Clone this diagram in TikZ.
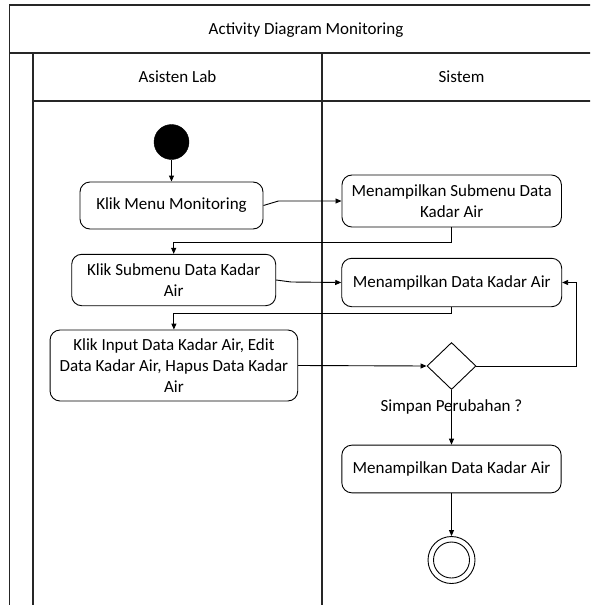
\documentclass[tikz,border=0pt]{standalone}
\usepackage{fontspec}
\setmainfont{Carlito}
\usetikzlibrary{shapes.geometric,arrows.meta}
\tikzset{
  x=1pt,y=-1pt,
  frame/.style={line width=1.2pt,draw=black!85},
  act/.style={draw,line width=0.9pt,rounded corners=10pt,align=center,inner sep=0pt,
    font=\fontsize{17}{21}\selectfont},
  dec/.style={draw,diamond,line width=0.9pt,inner sep=0pt,minimum width=49pt,minimum height=47pt},
  lbl/.style={align=center,inner sep=0pt,font=\fontsize{17}{21}\selectfont},
  arr/.style={line width=0.9pt,-{Triangle[length=6pt,width=5pt]}},
}
\begin{document}
\begin{tikzpicture}
\useasboundingbox (0,0) rectangle (590,605);
\clip (0,0) rectangle (590,605);
% pool frame
\draw[frame] (9.5,5) rectangle (601,640);
\draw[frame] (9.5,53) -- (601,53);
\draw[frame] (33,53) -- (33,640);
\draw[frame] (33,101) -- (601,101);
\draw[frame] (322,53) -- (322,640);
\node[lbl] (title) at (306,30) {Activity Diagram Monitoring};
\node[lbl] (lane1) at (177.5,77) {Asisten Lab};
\node[lbl] (lane2) at (461.5,77) {Sistem};
% nodes
\node[circle,fill=black,draw=black,minimum size=35pt,inner sep=0pt] (start) at (171.5,142) {};
\node[act,minimum width=183pt,minimum height=47pt] (a1) at (171.5,205.5) {Klik Menu Monitoring};
\node[act,minimum width=219.5pt,minimum height=52pt] (s1) at (451.7,201) {Menampilkan Submenu Data\\Kadar Air};
\node[act,minimum width=204pt,minimum height=51.4pt] (a2) at (173.7,280) {Klik Submenu Data Kadar\\Air};
\node[act,minimum width=220pt,minimum height=48.4pt] (s2) at (451.7,282.5) {Menampilkan Data Kadar Air};
\node[act,minimum width=247.7pt,minimum height=71pt] (a3) at (173.9,365.5) {Klik Input Data Kadar Air, Edit\\Data Kadar Air, Hapus Data Kadar\\Air};
\node[dec] (d) at (451.5,366) {};
\node[lbl] (q) at (451.5,407) {Simpan Perubahan ?};
\node[act,minimum width=219.3pt,minimum height=47.7pt] (s3) at (451.5,469) {Menampilkan Data Kadar Air};
\node[circle,draw,line width=0.9pt,minimum size=47pt,inner sep=0pt] (end) at (451.5,560) {};
\node[circle,draw,line width=0.9pt,minimum size=36pt,inner sep=0pt] (endin) at (end.center) {};
% connectors
\draw[arr] (start) -- (a1);
\draw[arr] (a1.east) -- ++(15,-4.5) -- (s1.west);
\draw[arr] (s1.south) -- ++(0,15) -| (a2.north);
\draw[arr] (a2.east) -- ++(15,2) -- (s2.west);
\draw[arr] (s2.south) -- ++(0,6.5) -| (a3.north);
\draw[arr] (a3.east) -- (d.west);
\draw[arr] (d.east) -- ++(100,0) |- (s2.east);
\draw[arr] (d.south) -- (s3.north);
\draw[arr] (s3.south) -- (end.north);
\end{tikzpicture}
\end{document}
